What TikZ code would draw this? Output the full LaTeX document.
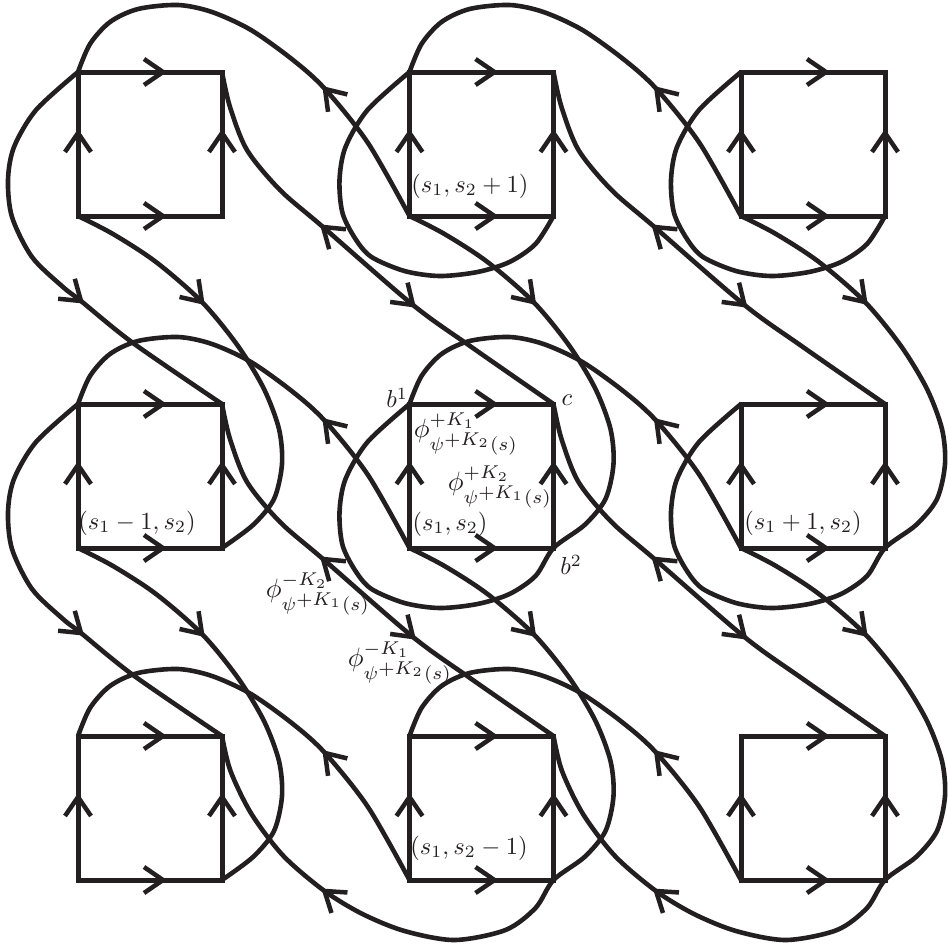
\documentclass[tikz,border=0pt]{standalone}
\definecolor{ink}{RGB}{35,31,32}
\tikzset{
  crv/.style={line width=4.6pt, draw=ink},
  sq/.style={line width=5pt, draw=ink},
  tipsty/.style={line width=4.5pt, draw=ink},
  lab/.style={scale=2.45, inner sep=0pt, text=ink},
  philab/.style={scale=2.65, inner sep=0pt, text=ink},
}
\newcommand\vtip[2]{\draw[tipsty,shift={#1},rotate=#2] (-19,13) -- (0,0) -- (-19,-13);}
% over-top arc from TL(i,j) to BL(i+1,j), relative to TL(i,j)
\newcommand\arcA{\draw[crv] plot[smooth] coordinates {(0,0) (12,-28) (32,-50) (60,-63) (100,-67) (134,-60) (173,-42) (215,-12) (247,17) (290,71) (331.5,144)};
  \vtip{(247,17)}{132}}
\begin{document}
\begin{tikzpicture}[x=1pt,y=-1pt]
\path[use as bounding box] (0,0) rectangle (948,943);
% corner coordinates of the 3x3 squares
\foreach \i in {0,1,2}{\foreach \j in {0,1,2}{
  \pgfmathsetmacro\X{78+331.5*\i}\pgfmathsetmacro\Y{72+332*\j}
  \coordinate (TL\i\j) at (\X,\Y);
}}
% over-top arcs
\foreach \s in {TL00,TL01,TL02,TL10,TL11,TL12}{
 \begin{scope}[shift={(\s)}]
  \arcA
 \end{scope}}
% left bulge (column 0, rows 0 and 1): TL(0,j) -> TR(0,j+1)
\foreach \s in {TL00,TL01}{
 \begin{scope}[shift={(\s)}]
  \draw[crv] plot[smooth] coordinates {(144,332) (55,271) (3,229) (-15,215) (-46,185) (-66,145) (-70,108) (-64,75) (-42,38) (0,0)};
  \vtip{(3,229)}{-40}
 \end{scope}}
% left loop only: BR -> TL
\foreach \s in {TL10,TL20}{
 \begin{scope}[shift={(\s)}]
  \draw[crv] plot[smooth] coordinates {(144,144) (126,172) (100,190) (68,200) (30,204) (-5,199) (-38,185) (-54,167) (-67,141) (-70,108) (-64,75) (-42,38) (0,0)};
 \end{scope}}
% right loop + left loop (middle row, columns 1 and 2)
\foreach \s in {TL11,TL21}{
 \begin{scope}[shift={(\s)}]
  \draw[crv] plot[smooth] coordinates {(0,-188) (35,-170) (78,-142) (124,-102) (160,-58) (186,-15) (201,25) (204,60) (196,95) (175,121) (144,144) (126,172) (100,190) (68,200) (30,204) (-5,199) (-38,185) (-54,167) (-67,141) (-70,108) (-64,75) (-42,38) (0,0)};
  \vtip{(124,-102)}{-47}
 \end{scope}}
% right loop only (column 0, rows 1 and 2)
\foreach \s in {TL01,TL02}{
 \begin{scope}[shift={(\s)}]
  \draw[crv] plot[smooth] coordinates {(0,-188) (35,-170) (78,-142) (124,-102) (160,-58) (186,-15) (201,25) (204,60) (196,95) (175,121) (144,144)};
  \vtip{(124,-102)}{-47}
 \end{scope}}
% right loop + bottom arc (bottom row, columns 1 and 2)
\foreach \s in {TL12,TL22}{
 \begin{scope}[shift={(\s)}]
  \draw[crv] plot[smooth] coordinates {(0,-188) (35,-170) (78,-142) (124,-102) (160,-58) (186,-15) (201,25) (204,60) (196,95) (175,121) (144,144) (126,172) (96,194) (45,204) (-5,195) (-47,178) (-85,155) (-126,120) (-158,78) (-179,35) (-187.5,0)};
  \vtip{(124,-102)}{-47}
  \vtip{(-85,155)}{142}
 \end{scope}}
% diagonals TR(i,j) -> TR(i+1,j+1)
\foreach \s in {TL00,TL10,TL01,TL11}{
 \begin{scope}[shift={(\s)}]
  \draw[crv] plot[smooth] coordinates {(144,0) (152,35) (169,78) (202,118) (245,155) (335,233) (392,274) (475.5,332)};
  \vtip{(245,155)}{140}
  \vtip{(335,233)}{-42}
 \end{scope}}
% squares
\foreach \i in {0,1,2}{\foreach \j in {0,1,2}{
 \begin{scope}[shift={(TL\i\j)}]
  \draw[sq] (0,0) rectangle (144,144);
  \vtip{(85,0)}{0}
  \vtip{(85,144)}{0}
  \vtip{(0,61)}{90}
  \vtip{(144,61)}{90}
 \end{scope}
}}
% labels
\node[lab] (lsp) at (470,186) {$(s_1,s_2+1)$};
\node[lab] (lsml) at (137,523) {$(s_1-1,s_2)$};
\node[lab] (ls) at (450,524) {$(s_1,s_2)$};
\node[lab] (lspr) at (803,523) {$(s_1+1,s_2)$};
\node[lab] (lsm) at (469,848) {$(s_1,s_2-1)$};
\node[lab] (lb1) at (397,398) {$b^1$};
\node[lab] (lc) at (567,400) {$c$};
\node[lab] (lb2) at (571,565) {$b^2$};
\node[philab] (p1) at (466,434) {$\phi^{+K_1}_{\psi^{\scriptstyle +K_2}(s)}$};
\node[philab] (p2) at (500,487) {$\phi^{+K_2}_{\psi^{\scriptstyle +K_1}(s)}$};
\node[philab] (p3) at (318,594) {$\phi^{-K_2}_{\psi^{\scriptstyle +K_1}(s)}$};
\node[philab] (p4) at (400,663) {$\phi^{-K_1}_{\psi^{\scriptstyle +K_2}(s)}$};
\end{tikzpicture}
\end{document}
